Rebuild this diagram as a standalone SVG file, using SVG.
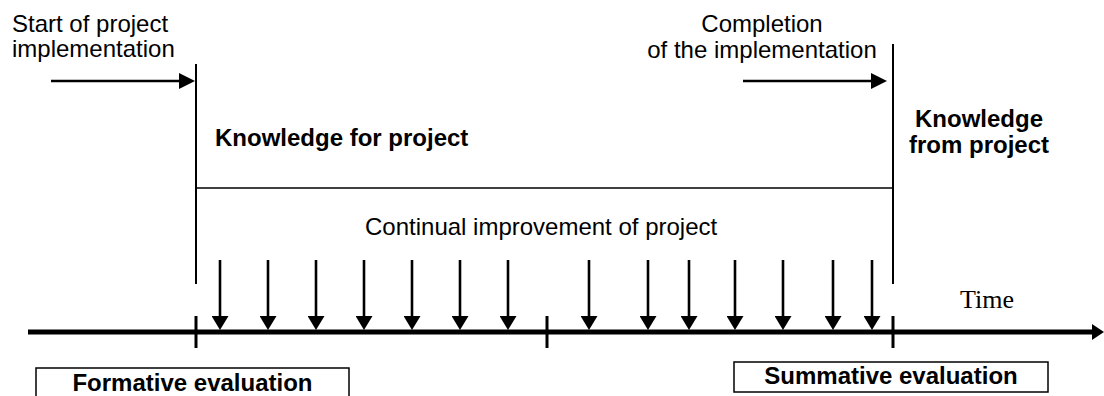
<svg xmlns="http://www.w3.org/2000/svg" width="1104" height="396" viewBox="0 0 1104 396">
<style>
.t{font-family:"Liberation Sans",Arial,sans-serif;font-size:24px;fill:#000}
.b{font-weight:bold}
.tm{font-family:"Liberation Serif","Times New Roman",serif;font-size:26px;fill:#000}
.ln{stroke:#000;fill:none}
.box{fill:#fff;stroke:#000;stroke-width:1.5}
</style>
<defs>
<marker id="ahDown" viewBox="0 0 14 17" refX="0" refY="8.5" markerWidth="14" markerHeight="17" markerUnits="userSpaceOnUse" orient="auto"><path d="M0,0 L14,8.5 L0,17 z" fill="#000"/></marker>
<marker id="ahTop" viewBox="0 0 16 16" refX="0" refY="8" markerWidth="16" markerHeight="16" markerUnits="userSpaceOnUse" orient="auto"><path d="M0,0 L16,8 L0,16 z" fill="#000"/></marker>
<marker id="ahAxis" viewBox="0 0 12 16" refX="0" refY="8" markerWidth="12" markerHeight="16" markerUnits="userSpaceOnUse" orient="auto"><path d="M0,0 L12,8 L0,16 z" fill="#000"/></marker>
</defs>
<rect width="1104" height="396" fill="#fff"/>

<g id="start-label">
<text class="t" x="12" y="32">Start of project</text>
<text class="t" x="12" y="57">implementation</text>
</g>
<g id="completion-label">
<text class="t" x="762" y="32" text-anchor="middle">Completion</text>
<text class="t" x="762" y="58" text-anchor="middle">of the implementation</text>
</g>
<g id="knowledge-for">
<text class="t b" x="215" y="146">Knowledge for project</text>
</g>
<g id="knowledge-from">
<text class="t b" x="979" y="127" text-anchor="middle">Knowledge</text>
<text class="t b" x="979" y="153" text-anchor="middle">from project</text>
</g>
<g id="continual">
<text class="t" x="365" y="235">Continual improvement of project</text>
</g>
<g id="time-label">
<text class="tm" x="960" y="308">Time</text>
</g>
<g id="formative">
<rect class="box" x="36" y="368" width="313" height="40"/>
<text class="t b" x="192.5" y="391" text-anchor="middle">Formative evaluation</text>
</g>
<g id="summative">
<rect class="box" x="734" y="362" width="314" height="30"/>
<text class="t b" x="891" y="384" text-anchor="middle">Summative evaluation</text>
</g>

<g id="connectors">
<line class="ln" x1="196" y1="64" x2="196" y2="284" stroke-width="2"/>
<line class="ln" x1="893" y1="44" x2="893" y2="284" stroke-width="2"/>
<line class="ln" x1="196" y1="188" x2="893" y2="188" stroke-width="1.5"/>
<line class="ln" x1="51" y1="81" x2="179" y2="81" stroke-width="2.5" marker-end="url(#ahTop)"/>
<line class="ln" x1="743" y1="81" x2="871" y2="81" stroke-width="2.5" marker-end="url(#ahTop)"/>
<line class="ln" x1="28" y1="332" x2="1092" y2="332" stroke-width="5" marker-end="url(#ahAxis)"/>
<line class="ln" x1="196" y1="316" x2="196" y2="348" stroke-width="3"/>
<line class="ln" x1="547" y1="316" x2="547" y2="348" stroke-width="3"/>
<line class="ln" x1="893" y1="316" x2="893" y2="348" stroke-width="3"/>
<g stroke="#000" stroke-width="2.6" marker-end="url(#ahDown)">
<line x1="220" y1="260" x2="220" y2="316"/>
<line x1="268" y1="260" x2="268" y2="316"/>
<line x1="316" y1="260" x2="316" y2="316"/>
<line x1="364" y1="260" x2="364" y2="316"/>
<line x1="412" y1="260" x2="412" y2="316"/>
<line x1="460" y1="260" x2="460" y2="316"/>
<line x1="508" y1="260" x2="508" y2="316"/>
<line x1="589" y1="260" x2="589" y2="316"/>
<line x1="648" y1="260" x2="648" y2="316"/>
<line x1="689" y1="260" x2="689" y2="316"/>
<line x1="735" y1="260" x2="735" y2="316"/>
<line x1="783" y1="260" x2="783" y2="316"/>
<line x1="833" y1="260" x2="833" y2="316"/>
<line x1="872" y1="260" x2="872" y2="316"/>
</g>
</g>
</svg>
